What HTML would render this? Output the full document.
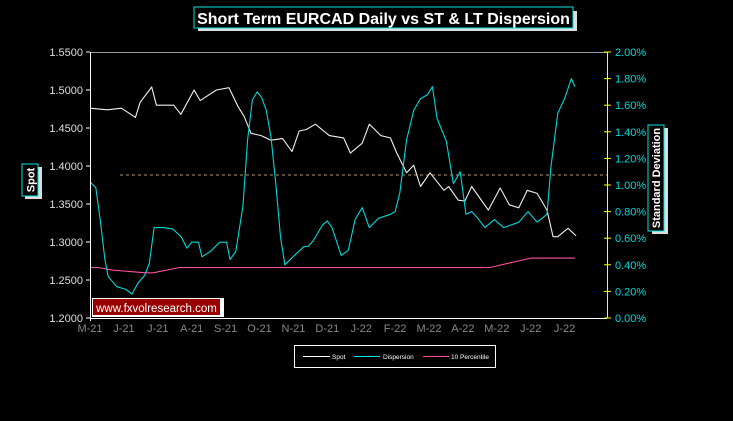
<!DOCTYPE html>
<html><head><meta charset="utf-8"><style>
html,body{margin:0;padding:0;background:#000;}
svg{display:block;font-family:"Liberation Sans",Arial,sans-serif;}
</style></head><body>
<svg id="chart" width="733" height="421" viewBox="0 0 733 421">
  <rect x="0" y="0" width="733" height="421" fill="#000"/>
  <g>
    <rect x="198" y="11" width="379" height="20" fill="#ddd"/>
    <rect x="194" y="7" width="379" height="21" fill="#000" stroke="#00e5e5" stroke-width="1"/>
    <text x="383.5" y="24" text-anchor="middle" fill="#fff" font-size="16" font-weight="bold">Short Term EURCAD Daily vs ST &amp; LT Dispersion</text>
  </g>
  <g id="grid"></g>
  <g id="series"></g>
  <g id="axes"></g>
  <g>
    <rect x="25" y="167" width="17" height="32" fill="#ddd"/>
    <rect x="22" y="164" width="16" height="32" fill="#000" stroke="#00e5e5"/>
    <text transform="translate(34.5,180) rotate(-90)" text-anchor="middle" fill="#fff" font-size="11" font-weight="bold">Spot</text>
  </g>
  <g>
    <rect x="652" y="128" width="16" height="106" fill="#ddd"/>
    <rect x="648" y="125" width="16" height="106" fill="#000" stroke="#00e5e5"/>
    <text transform="translate(660,178) rotate(-90)" text-anchor="middle" fill="#fff" font-size="11" font-weight="bold">Standard Deviation</text>
  </g>
  <g>
    <rect x="92" y="298" width="132" height="19" fill="#fff"/>
    <rect x="93" y="299" width="127" height="16" fill="#990000"/>
    <text x="156.5" y="312" text-anchor="middle" fill="#fff" font-size="11.5">www.fxvolresearch.com</text>
  </g>
  <g>
    <rect x="294.5" y="345.5" width="201" height="22" fill="#000" stroke="#fff"/>
    <line x1="303" y1="356.5" x2="330" y2="356.5" stroke="#fff"/>
    <text x="332" y="359" fill="#fff" font-size="6.5">Spot</text>
    <line x1="354" y1="356.5" x2="380" y2="356.5" stroke="#00e5e5"/>
    <text x="383" y="359" fill="#fff" font-size="6.5">Dispersion</text>
    <line x1="423" y1="356.5" x2="449" y2="356.5" stroke="#ff4fa0"/>
    <text x="451" y="359" fill="#fff" font-size="6.5">10 Percentile</text>
  </g>
</svg>
<script>
const monthLabels = ["M-21","J-21","J-21","A-21","S-21","O-21","N-21","D-21","J-22","F-22","M-22","A-22","M-22","J-22","J-22"];
const spotTicks = [1.20,1.25,1.30,1.35,1.40,1.45,1.50,1.55];
const stdTicks = [0,0.2,0.4,0.6,0.8,1.0,1.2,1.4,1.6,1.8,2.0];
// time in months since M-21
const spotT = [0,0.51,0.93,1.34,1.48,1.82,1.96,2.47,2.68,3.07,3.25,3.73,4.1,4.37,4.55,4.75,5.05,5.34,5.68,5.96,6.17,6.38,6.65,7.06,7.48,7.68,8.03,8.24,8.58,8.86,9.05,9.34,9.55,9.75,10.03,10.44,10.58,10.86,11.06,11.26,11.75,12.1,12.37,12.65,12.9,13.19,13.48,13.66,13.8,14.1,14.34];
const spotVals = [1.476,1.474,1.476,1.464,1.484,1.504,1.480,1.480,1.468,1.500,1.486,1.500,1.503,1.478,1.465,1.443,1.440,1.434,1.436,1.419,1.446,1.448,1.455,1.440,1.437,1.417,1.430,1.455,1.440,1.437,1.417,1.391,1.401,1.373,1.391,1.368,1.373,1.355,1.354,1.373,1.342,1.371,1.349,1.345,1.368,1.364,1.342,1.307,1.307,1.318,1.308];
const dispT = [0,0.17,0.3,0.44,0.54,0.79,1.06,1.24,1.41,1.61,1.75,1.89,2.16,2.44,2.69,2.86,3.0,3.2,3.3,3.55,3.83,4.03,4.13,4.3,4.51,4.65,4.79,4.93,5.06,5.2,5.34,5.48,5.62,5.75,6.03,6.3,6.44,6.58,6.86,7.0,7.14,7.41,7.62,7.82,8.03,8.24,8.51,8.86,9.0,9.14,9.34,9.55,9.75,9.96,10.1,10.24,10.51,10.72,10.92,11.09,11.26,11.44,11.65,11.93,12.2,12.65,12.92,13.19,13.48,13.6,13.8,14.0,14.2,14.3];
const dispVals = [1.025,0.98,0.74,0.44,0.31,0.235,0.215,0.18,0.26,0.32,0.41,0.68,0.68,0.67,0.61,0.525,0.57,0.57,0.46,0.50,0.57,0.57,0.44,0.50,0.84,1.34,1.64,1.70,1.66,1.56,1.36,1.01,0.61,0.40,0.47,0.535,0.54,0.58,0.70,0.73,0.68,0.47,0.51,0.74,0.83,0.68,0.75,0.78,0.80,0.94,1.34,1.56,1.65,1.68,1.74,1.50,1.33,1.01,1.10,0.78,0.80,0.75,0.68,0.74,0.68,0.72,0.80,0.72,0.78,1.14,1.54,1.65,1.80,1.74];
const pctT = [0,0.24,0.65,1.65,1.86,2.65,9.0,11.8,13.0,14.3];
const pctVals = [0.38,0.38,0.36,0.34,0.34,0.38,0.38,0.38,0.45,0.45];
const dashLevel = 1.075;

const NS="http://www.w3.org/2000/svg";
const X0=90,X1=607,Y0=318,Y1=52,MW=33.9;
const xT=t=>X0+t*MW;
const ySpot=v=>Y0-(v-1.2)/0.35*(Y0-Y1);
const yStd=v=>Y0-v/2*(Y0-Y1);
function mk(tag,attrs,parent){const e=document.createElementNS(NS,tag);for(const k in attrs)e.setAttribute(k,attrs[k]);parent.appendChild(e);return e;}
const axes=document.getElementById('axes'), series=document.getElementById('series'), grid=document.getElementById('grid');

let l=mk('line',{x1:X0,y1:Y1+0.5,x2:X1,y2:Y1+0.5,stroke:'#999'},grid);


let d=mk('line',{x1:120,y1:yStd(dashLevel),x2:X1,y2:yStd(dashLevel),stroke:'#b8946a','stroke-dasharray':'3,3'},grid);



function path(ts,vs,yf,color,name){
  let s='';ts.forEach((t,i)=>{s+=(i?'L':'M')+xT(t).toFixed(1)+','+yf(vs[i]).toFixed(1);});
  const p=mk('path',{d:s,fill:'none',stroke:color,'stroke-width':1.1,'stroke-linejoin':'round'},series);
  
  
}
path(pctT,pctVals,yStd,'#ff4fa0','percentile-line');
path(spotT,spotVals,ySpot,'#f0f0f0','spot-line');
path(dispT,dispVals,yStd,'#00d8d8','dispersion-line');

let la=mk('line',{x1:X0+0.5,y1:Y1,x2:X0+0.5,y2:Y0+3,stroke:'#fff'},axes);


let ba=mk('line',{x1:X0,y1:Y0+0.5,x2:X1,y2:Y0+0.5,stroke:'#fff'},axes);


let ra=mk('line',{x1:X1+0.5,y1:Y1,x2:X1+0.5,y2:Y0,stroke:'#ffff00'},axes);



spotTicks.forEach(v=>{
  const y=ySpot(v);
  mk('line',{x1:X0-4,y1:y,x2:X0,y2:y,stroke:'#fff'},axes);
  const t=mk('text',{x:X0-7,y:y+4,'text-anchor':'end',fill:'#ddd','font-size':11},axes);
  t.textContent=v.toFixed(4);
  
  
});
stdTicks.forEach(v=>{
  const y=yStd(v);
  mk('line',{x1:X1-3,y1:y,x2:X1+4,y2:y,stroke:'#ffff00'},axes);
  const t=mk('text',{x:X1+8,y:y+4,fill:'#00d8d8','font-size':11},axes);
  t.textContent=v.toFixed(2)+'%';
  
  
});
monthLabels.forEach((m,i)=>{
  const t=mk('text',{x:xT(i),y:332,'text-anchor':'middle',fill:'#888','font-size':11},axes);
  t.textContent=m;
  
  
});
</script>
</body></html>
